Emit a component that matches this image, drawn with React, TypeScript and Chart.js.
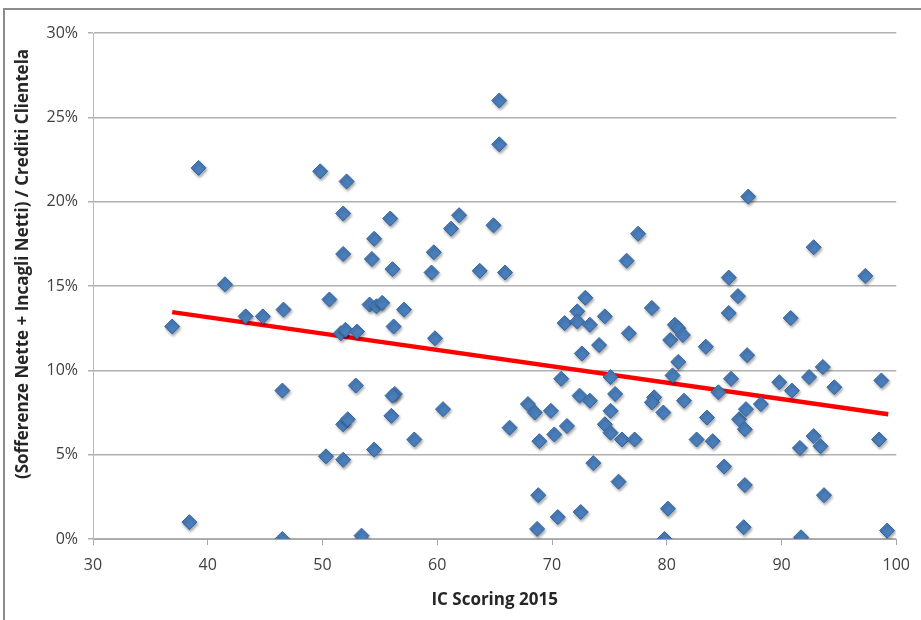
import React, { useEffect, useRef } from 'react';
import { Chart, registerables } from 'chart.js';

Chart.register(...registerables);

// IC Scoring 2015 (x) for each bank
const scoreX = [
  36.9, 38.4, 39.2, 41.5, 43.3, 44.8, 46.6, 46.5, 46.5, 49.8,
  50.6, 50.3, 51.8, 52.1, 51.8, 51.6, 52.0, 51.8, 52.2, 51.8,
  52.9, 53.0, 53.4, 54.5, 54.3, 54.1, 54.7, 55.2, 54.5, 55.9,
  56.1, 56.2, 56.0, 56.3, 56.1, 57.1, 58.0, 59.7, 59.5, 59.8,
  60.5, 61.2, 61.9, 63.7, 64.9, 65.4, 65.4, 65.9, 66.3, 67.9,
  68.5, 68.9, 68.8, 68.7, 69.9, 70.2, 70.5, 70.8, 71.1, 71.3,
  72.2, 72.2, 72.9, 72.6, 72.4, 72.5, 73.3, 73.3, 73.6, 74.6,
  74.1, 74.6, 75.1, 75.5, 75.1, 75.1, 75.8, 76.1, 76.5, 76.7,
  77.2, 77.5, 78.7, 78.9, 78.7, 79.7, 79.8, 80.1, 80.3, 80.5,
  80.7, 81.0, 81.4, 81.0, 81.5, 82.6, 83.4, 83.5, 84.0, 84.5,
  85.0, 85.4, 85.4, 85.6, 86.2, 86.3, 86.8, 86.9, 86.8, 86.7,
  87.0, 87.1, 88.2, 89.8, 90.8, 90.9, 91.6, 91.7, 92.4, 92.8,
  92.8, 93.4, 93.6, 93.7, 94.6, 97.3, 98.5, 98.7, 99.2,
];

// (Sofferenze Nette + Incagli Netti) / Crediti Clientela, in %
const ratioY = [
  12.6, 1.0, 22.0, 15.1, 13.2, 13.2, 13.6, 8.8, 0.0, 21.8,
  14.2, 4.9, 19.3, 21.2, 16.9, 12.2, 12.4, 6.8, 7.1, 4.7,
  9.1, 12.3, 0.2, 17.8, 16.6, 13.9, 13.8, 14.0, 5.3, 19.0,
  16.0, 12.6, 7.3, 8.6, 8.5, 13.6, 5.9, 17.0, 15.8, 11.9,
  7.7, 18.4, 19.2, 15.9, 18.6, 26.0, 23.4, 15.8, 6.6, 8.0,
  7.5, 5.8, 2.6, 0.6, 7.6, 6.2, 1.3, 9.5, 12.8, 6.7,
  13.5, 12.9, 14.3, 11.0, 8.5, 1.6, 12.7, 8.2, 4.5, 13.2,
  11.5, 6.8, 9.6, 8.6, 7.6, 6.3, 3.4, 5.9, 16.5, 12.2,
  5.9, 18.1, 13.7, 8.4, 8.1, 7.5, 0.0, 1.8, 11.8, 9.7,
  12.7, 12.5, 12.1, 10.5, 8.2, 5.9, 11.4, 7.2, 5.8, 8.7,
  4.3, 15.5, 13.4, 9.5, 14.4, 7.1, 6.5, 7.7, 3.2, 0.7,
  10.9, 20.3, 8.0, 9.3, 13.1, 8.8, 5.4, 0.1, 9.6, 17.3,
  6.1, 5.5, 10.2, 2.6, 9.0, 15.6, 5.9, 9.4, 0.5,
];

// linear trend line end points
const trendX = [36.9, 99.3];
const trendY = [13.45, 7.4];

const xTicks = [30, 40, 50, 60, 70, 80, 90, 100];
const yTicks = [0, 5, 10, 15, 20, 25, 30];

const xTitle = 'IC Scoring 2015';
const yTitle = '(Sofferenze Nette + Incagli Netti) / Crediti Clientela';

const FONT = '"Open Sans", "DejaVu Sans", sans-serif';

const yTitlePlugin = {
  id: 'yTitleDraw',
  afterDraw(chart: any) {
    const ctx = chart.ctx;
    ctx.save();
    ctx.translate(23, 264);
    ctx.rotate(-Math.PI / 2);
    ctx.font = `bold 17px ${FONT}`;
    ctx.fillStyle = '#262626';
    ctx.textAlign = 'center';
    ctx.textBaseline = 'middle';
    ctx.fillText(yTitle, 0, 0);
    ctx.restore();
  },
};

const shadowPlugin = {
  id: 'pointShadow',
  beforeDatasetDraw(chart: any, args: any) {
    if (args.index === 0) {
      const ctx = chart.ctx;
      ctx.save();
      ctx.shadowColor = 'rgba(0,0,0,0.35)';
      ctx.shadowBlur = 3;
      ctx.shadowOffsetX = 1;
      ctx.shadowOffsetY = 2;
    }
  },
  afterDatasetDraw(chart: any, args: any) {
    if (args.index === 0) chart.ctx.restore();
  },
};

export default function App() {
  const ref = useRef<HTMLCanvasElement | null>(null);

  useEffect(() => {
    document.body.style.margin = '0';
    const canvas = ref.current;
    if (!canvas) return;
    const points = scoreX.map((x, i) => ({ x, y: ratioY[i] }));
    const trend = trendX.map((x, i) => ({ x, y: trendY[i] }));

    const chart = new Chart(canvas, {
      type: 'scatter',
      data: {
        datasets: [
          {
            data: points,
            pointStyle: 'rectRot',
            pointRadius: 7.5,
            pointHoverRadius: 7.5,
            backgroundColor: '#4a7ebb',
            borderColor: '#35659f',
            borderWidth: 1,
            order: 0,
          },
          {
            data: trend,
            showLine: true,
            pointRadius: 0,
            borderColor: '#ff0000',
            borderWidth: 4.5,
            order: 1,
          } as any,
        ],
      },
      options: {
        animation: false,
        responsive: false,
        devicePixelRatio: 1,
        layout: { padding: { top: 33, right: 23, left: 0, bottom: 0 } },
        plugins: {
          legend: { display: false },
          tooltip: { enabled: false },
        },
        scales: {
          x: {
            type: 'linear',
            min: 30,
            max: 100,
            afterBuildTicks: (scale: any) => {
              scale.ticks = xTicks.map((v) => ({ value: v }));
            },
            afterFit: (scale: any) => {
              scale.height = 81;
            },
            grid: {
              drawOnChartArea: false,
              drawTicks: true,
              tickLength: 6,
              color: '#a8a8a8',
            },
            border: { display: true, color: '#a8a8a8', width: 1 },
            ticks: {
              padding: 11,
              color: '#404040',
              font: { family: FONT, size: 16 },
            },
            title: {
              display: true,
              text: xTitle,
              color: '#262626',
              font: { family: FONT, size: 17, weight: 'bold' },
              padding: { top: 0, bottom: 9.8 },
            },
          },
          y: {
            type: 'linear',
            min: 0,
            max: 30,
            afterBuildTicks: (scale: any) => {
              scale.ticks = yTicks.map((v) => ({ value: v }));
            },
            afterFit: (scale: any) => {
              scale.width = 93;
            },
            grid: {
              drawOnChartArea: true,
              drawTicks: true,
              tickLength: 5,
              color: '#b0b0b0',
              lineWidth: 1.5,
            },
            border: { display: true, color: '#b8b8b8', width: 1 },
            ticks: {
              padding: 10,
              color: '#404040',
              font: { family: FONT, size: 16 },
              callback: (v: any) => `${v}%`,
            },
          },
        },
      },
      plugins: [shadowPlugin, yTitlePlugin],
    });

    return () => chart.destroy();
  }, []);

  return (
    <div style={{ position: 'relative', width: 921, height: 620, overflow: 'hidden', background: '#fff' }}>
      <div
        style={{
          position: 'absolute',
          left: 3,
          top: 8,
          width: 940,
          height: 640,
          borderTop: '2px solid #8c8c8c',
          borderLeft: '2px solid #8c8c8c',
        }}
      />
      <canvas ref={ref} width={921} height={620} style={{ position: 'absolute', left: 0, top: 0 }} />
    </div>
  );
}
